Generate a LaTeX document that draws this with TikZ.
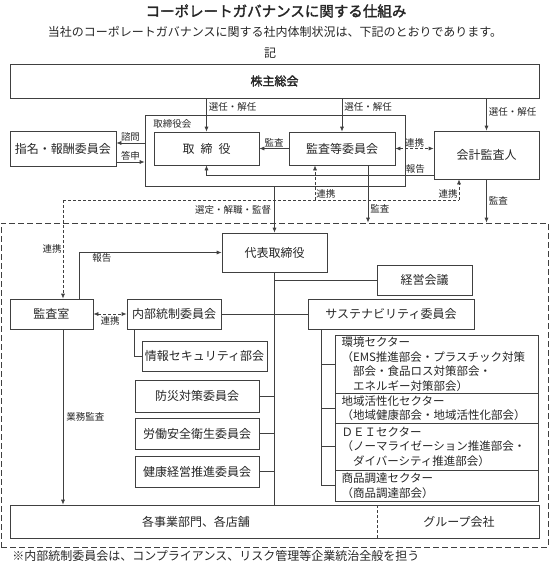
\documentclass[tikz,border=0pt]{standalone}
\usepackage{fontspec}
\setmainfont{Noto Sans CJK JP}[AutoFakeBold=2]
\usetikzlibrary{arrows.meta}

\begin{document}
\begin{tikzpicture}[x=1pt,y=-1pt,line width=0.7pt,color=black!75,text=black!85,
    box/.style={draw,rectangle,inner sep=0pt,font=\fontsize{12}{14}\selectfont},
    sector/.style={box,minimum width=203pt,text width=190pt,inner xsep=6.5pt,align=left,
        font=\fontsize{11.5}{14.5}\selectfont},
    lbl/.style={inner sep=1pt,font=\fontsize{9.5}{11}\selectfont},
    txt/.style={inner sep=0pt,font=\fontsize{12}{14}\selectfont},
    arr/.style={-{Latex[length=5pt,width=4pt]}},
    twoarr/.style={{Latex[length=5pt,width=4pt]}-{Latex[length=5pt,width=4pt]}},
    link/.style={dash pattern=on 3pt off 2pt}]
\useasboundingbox (0,0) rectangle (549,566);

\node[inner sep=0pt,font=\fontsize{14.5}{16}\selectfont\bfseries] (title) at (276,11) {コーポレートガバナンスに関する仕組み};
\node[txt] (intro) at (275,32) {当社のコーポレートガバナンスに関する社内体制状況は、下記のとおりであります。};
\node[txt] (ki) at (270,53) {記};

\node[box,minimum width=529pt,minimum height=34pt,font=\fontsize{12}{14}\selectfont\bfseries] (kabunushi) at (274.5,81) {株主総会};
\node[box,minimum width=260pt,minimum height=71pt] (board) at (275,150.5) {};
\node[lbl,anchor=west] (boardlbl) at (152,124) {取締役会};
\node[box,minimum width=105pt,minimum height=33pt] (director) at (206.5,148.5) {取\hspace{0.5em}締\hspace{0.5em}役};
\node[box,minimum width=106pt,minimum height=33pt] (auditcom) at (342,148.5) {監査等委員会};
\node[box,minimum width=106pt,minimum height=35pt] (nomination) at (63,148.5) {指名・報酬委員会};
\node[box,minimum width=105pt,minimum height=48pt] (accountant) at (486.5,155) {会計監査人};

\node[draw,dash pattern=on 6pt off 3pt,minimum width=547pt,minimum height=324pt] (corp) at (274.5,385) {};
\node[box,minimum width=105pt,minimum height=39pt] (rep) at (274.5,252.5) {代表取締役};
\node[box,minimum width=95pt,minimum height=30pt] (keiei) at (424.5,280) {経営会議};
\node[box,minimum width=83pt,minimum height=30pt] (kansashitsu) at (51.5,314) {監査室};
\node[box,minimum width=94pt,minimum height=30pt] (naibu) at (174,314) {内部統制委員会};
\node[box,minimum width=166pt,minimum height=30pt] (sustain) at (391,314) {サステナビリティ委員会};
\node[box,minimum width=125pt,minimum height=30pt] (security) at (204.5,356) {情報セキュリティ部会};
\node[box,minimum width=124pt,minimum height=32pt] (bousai) at (197,396) {防災対策委員会};
\node[box,minimum width=124pt,minimum height=31pt] (roudou) at (197,433.5) {労働安全衛生委員会};
\node[box,minimum width=124pt,minimum height=31pt] (kenkou) at (197,471.5) {健康経営推進委員会};

\node[sector,minimum height=58pt] (env) at (436.5,364) {環境セクター\\（EMS推進部会・プラスチック対策\\\hspace*{1em}部会・食品ロス対策部会・\\\hspace*{1em}エネルギー対策部会）};
\node[sector,minimum height=30pt] (region) at (436.5,408) {地域活性化セクター\\（地域健康部会・地域活性化部会）};
\node[sector,minimum height=47pt] (dei) at (436.5,446.5) {ＤＥＩセクター\\（ノーマライゼーション推進部会・\\\hspace*{1em}ダイバーシティ推進部会）};
\node[sector,minimum height=31pt] (goods) at (436.5,485.5) {商品調達セクター\\（商品調達部会）};

\node[box,minimum width=529pt,minimum height=33pt] (units) at (274.5,521.5) {};
\node[txt] (business) at (196,522) {各事業部門、各店舗};
\node[txt] (group) at (459,522) {グループ会社};
\draw[dash pattern=on 3pt off 2pt] (377,505) -- (377,538);

\node[txt,anchor=west] (note) at (12,556) {※内部統制委員会は、コンプライアンス、リスク管理等企業統治全般を担う};

\draw[arr] (kabunushi.south -| director.north) -- (director.north) node[lbl,pos=0.27,right=1pt] {選任・解任};
\draw[arr] (kabunushi.south -| auditcom.north) -- (auditcom.north) node[lbl,pos=0.27,right=1pt] {選任・解任};
\draw[arr] (kabunushi.south -| accountant.north) -- (accountant.north) node[lbl,pos=0.42,right=1pt] {選任・解任};

\draw[arr] ([yshift=5.5pt]nomination.east -| board.west) -- ([yshift=5.5pt]nomination.east) node[lbl,midway,above] {諮問};
\draw[arr] ([yshift=-13.5pt]nomination.east) -- ([yshift=-13.5pt]nomination.east -| board.west) node[lbl,midway,above] {答申};
\draw[arr] (auditcom) -- (director) node[lbl,midway,above] {監査};
\draw[twoarr,link] (auditcom.east) -- (auditcom.east -| accountant.west) node[lbl,midway,above] {連携};
\draw[arr] ([yshift=-20pt]accountant.west) -| (director.south) node[lbl,pos=0.04,above] {報告};

\coordinate (lk) at (63,200);
\coordinate (mk) at (315,200);
\coordinate (rk) at (459,200);
\draw[link] (lk) -- (rk);
\draw[arr,link] (lk) -- (lk |- kansashitsu.north) node[lbl,midway,left] {連携};
\draw[arr,link] (mk) -- (mk |- auditcom.south);
\draw[arr,link] (rk) -- (rk |- accountant.south);
\node[lbl,above right] at (mk) {連携};
\node[lbl,above left] at (rk) {連携};

\draw[arr] (board.south -| rep.north) -- (rep.north) node[lbl,midway,left=2pt] {選定・解職・監督};
\draw[arr] ([xshift=26pt]auditcom.south) -- ([xshift=26pt]auditcom.south |- corp.north) node[lbl,pos=0.75,right=1pt] {監査};
\draw[arr] (accountant.south) -- (accountant.south |- corp.north) node[lbl,midway,right=1pt] {監査};

\draw[arr] ([xshift=27.5pt]kansashitsu.north) |- (rep.west) node[lbl,pos=0.58,below] {報告};
\draw[twoarr,link] (kansashitsu) -- (naibu) node[lbl,midway,below=1pt] {連携};
\draw[arr] (lk |- kansashitsu.south) -- (lk |- units.north) node[lbl,midway,right=2pt] {業務監査};

\draw (rep.south) -- (rep.south |- units.north);
\draw (rep.south |- keiei.west) -- (keiei.west);
\draw (naibu) -- (sustain);
\draw ([xshift=-40pt]naibu.south) |- (security.west);
\foreach \c in {bousai,roudou,kenkou}
    \draw (\c.east) -- (\c.east -| rep.south);

\coordinate (sx) at ([xshift=-70pt]sustain.south);
\draw (sx) |- (goods.west);
\foreach \s in {env,region,dei}
    \draw (sx |- \s.west) -- (\s.west);
\end{tikzpicture}
\end{document}
